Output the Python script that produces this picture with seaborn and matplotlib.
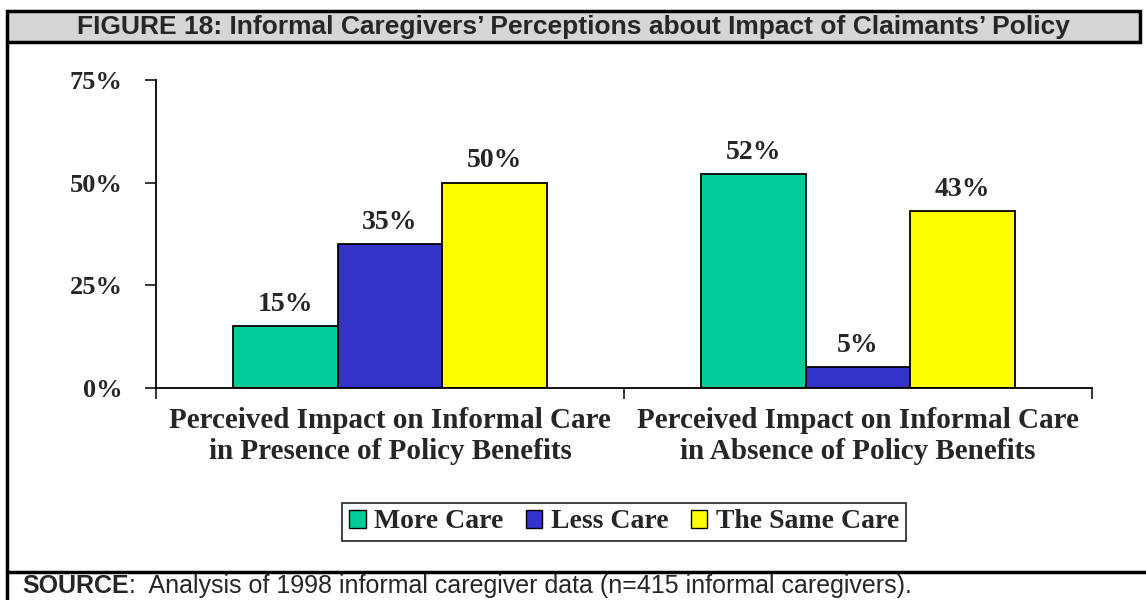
import matplotlib
matplotlib.use('Agg')
import matplotlib.pyplot as plt
import seaborn as sns
import pandas as pd
from matplotlib.patches import Rectangle, Patch
from matplotlib.lines import Line2D

# dados do gráfico
categorias = ['Perceived Impact on Informal Care\nin Presence of Policy Benefits',
              'Perceived Impact on Informal Care\nin Absence of Policy Benefits']
grupos = ['More Care', 'Less Care', 'The Same Care']
more_care = [15, 52]
less_care = [35, 5]
same_care = [50, 43]
cores = ['#00CC99', '#3333CC', '#FFFF00']
yticks = [0, 25, 50, 75]
titulo = 'FIGURE 18: Informal Caregivers\u2019 Perceptions about Impact of Claimants\u2019 Policy'
fonte_bold = 'SOURCE'
fonte_resto = ':  Analysis of 1998 informal caregiver data (n=415 informal caregivers).'

df = pd.DataFrame({
    'categoria': categorias * 3,
    'grupo': [g for g in grupos for _ in categorias],
    'valor': more_care + less_care + same_care,
})

sns.set_style('white')
plt.rcParams['font.family'] = ['Liberation Serif', 'DejaVu Serif']

W, H = 1146, 600
fig = plt.figure(figsize=(W / 100, H / 100), dpi=100)
ax = fig.add_axes([156 / W, 1 - 388 / H, (1092 - 156) / W, (388 - 80) / H])

sns.barplot(data=df, x='categoria', y='valor', hue='grupo', palette=cores,
            saturation=1, width=0.67, edgecolor='black', linewidth=1.3, ax=ax)

for cont in ax.containers:
    ax.bar_label(cont, fmt='%d%%', padding=7, fontsize=20, fontweight='bold')

ax.set_ylim(0, 75)
ax.set_xlim(-0.5, 1.5)
ax.set_yticks(yticks)
ax.set_yticklabels([f'{v}%' for v in yticks], fontsize=19, fontweight='bold')
ax.set_xticks([-0.5, 0.5, 1.5], minor=True)
ax.tick_params(axis='x', which='minor', length=8, width=1.3, direction='out', bottom=True)
ax.tick_params(axis='x', which='major', length=0, pad=14, labelsize=21)
ax.tick_params(axis='y', length=8, width=1.3, direction='out', left=True, pad=16)
for lbl in ax.get_xticklabels():
    lbl.set_fontweight('bold')
    lbl.set_linespacing(1.15)
ax.set_xlabel('')
ax.set_ylabel('')
for spine in ['top', 'right']:
    ax.spines[spine].set_visible(False)
for spine in ['left', 'bottom']:
    ax.spines[spine].set_color('black')
    ax.spines[spine].set_linewidth(1.3)

# legenda embaixo
ax.get_legend().remove()
handles = [Patch(facecolor=c, edgecolor='black', linewidth=1) for c in cores]
leg = fig.legend(handles, grupos, loc='center', bbox_to_anchor=(624 / W, 1 - 522 / H),
                 ncol=3, frameon=True, fancybox=False, edgecolor='black',
                 handlelength=0.6, handleheight=0.6, handletextpad=0.3,
                 columnspacing=0.8, borderpad=0.25, borderaxespad=0,
                 prop={'family': 'Liberation Serif', 'weight': 'bold', 'size': 20})
leg.get_frame().set_linewidth(1.3)

# moldura e faixa do título
fig.add_artist(Rectangle((7 / W, 1 - 42 / H), (1140 - 7) / W, 31 / H, transform=fig.transFigure,
                         facecolor='#d6d6d6', edgecolor='black', linewidth=2.5))
fig.add_artist(Line2D([7 / W, 7 / W], [0, 1 - 42 / H], transform=fig.transFigure,
                      color='black', linewidth=2.5))
fig.add_artist(Line2D([7 / W, 1], [1 - 572 / H, 1 - 572 / H], transform=fig.transFigure,
                      color='black', linewidth=2.5))
fig.text(573 / W, 1 - 27 / H, titulo, ha='center', va='center', fontsize=19,
         fontweight='bold', family='Liberation Sans')

t1 = fig.text(22 / W, 1 - 586 / H, fonte_bold, ha='left', va='center', fontsize=18,
              fontweight='bold', family='Liberation Sans')
fig.canvas.draw()
bb = t1.get_window_extent()
fig.text(bb.x1 / W, 1 - 586 / H, fonte_resto, ha='left', va='center', fontsize=18,
         family='Liberation Sans')

fig.savefig('out.png', dpi=100)
